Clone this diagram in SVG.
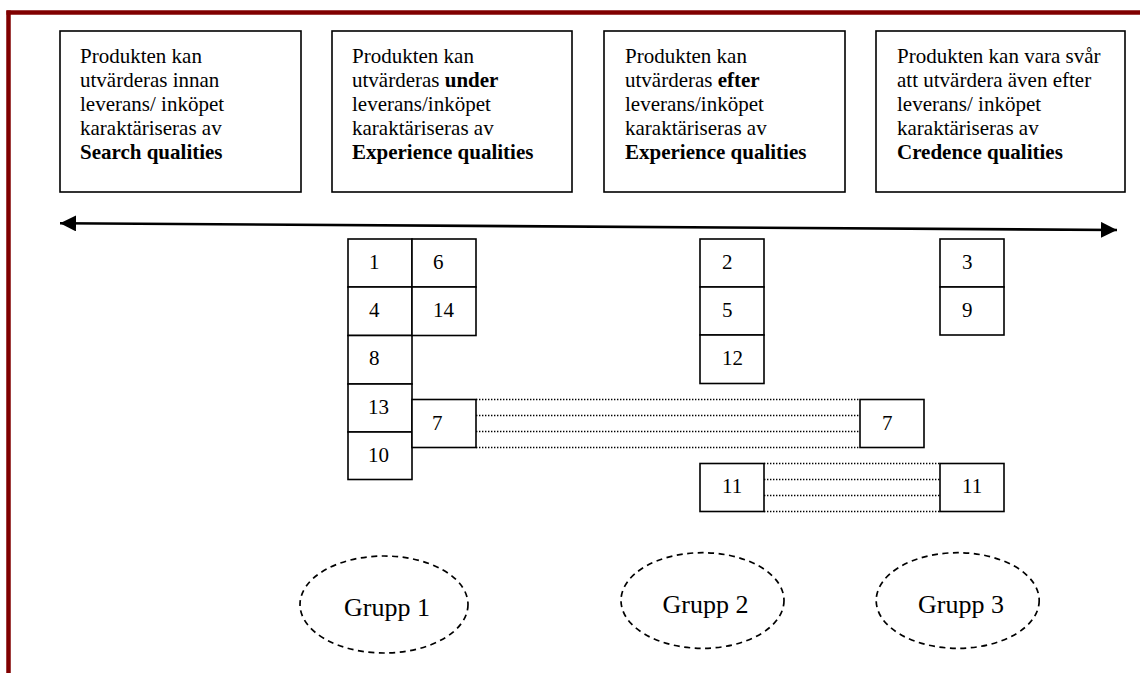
<svg xmlns="http://www.w3.org/2000/svg" width="1140" height="673" viewBox="0 0 1140 673">
<style>
.frame{fill:none;stroke:#800000;stroke-width:4.5}
.box{fill:#fff;stroke:#000;stroke-width:1.6}
.t{font-family:'Liberation Serif','DejaVu Serif',serif;font-size:21px;fill:#000}
.b{font-weight:bold}
.g{font-family:'Liberation Serif','DejaVu Serif',serif;font-size:26px;fill:#000;text-anchor:middle}
.dot{stroke:#000;stroke-width:1.4;stroke-dasharray:1.4 1.6;fill:none}
.ell{fill:#fff;stroke:#000;stroke-width:1.7;stroke-dasharray:6 4.5}
</style>
<defs>
<marker id="ah" viewBox="0 0 16 16" refX="16" refY="8" markerWidth="16" markerHeight="16" markerUnits="userSpaceOnUse" orient="auto-start-reverse">
<path d="M0,0 L16,8 L0,16 Z" fill="#000"/>
</marker>
</defs>
<rect width="1140" height="673" fill="#fff"/>
<g id="frame">
<line class="frame" x1="6.5" y1="12.5" x2="1140" y2="12.5"/>
<line class="frame" x1="8.5" y1="10.5" x2="8.5" y2="673"/>
</g>

<g id="box-search">
<rect class="box" x="60" y="31" width="241" height="161"/>
<text class="t" x="80" y="63">Produkten kan</text>
<text class="t" x="80" y="87">utvärderas innan</text>
<text class="t" x="80" y="111">leverans/ inköpet</text>
<text class="t" x="80" y="135">karaktäriseras av</text>
<text class="t b" x="80" y="159">Search qualities</text>
</g>
<g id="box-exp-under">
<rect class="box" x="332" y="31" width="240" height="161"/>
<text class="t" x="352" y="63">Produkten kan</text>
<text class="t" x="352" y="87">utvärderas <tspan class="b">under</tspan></text>
<text class="t" x="352" y="111">leverans/inköpet</text>
<text class="t" x="352" y="135">karaktäriseras av</text>
<text class="t b" x="352" y="159">Experience qualities</text>
</g>
<g id="box-exp-efter">
<rect class="box" x="604" y="31" width="241" height="161"/>
<text class="t" x="625" y="63">Produkten kan</text>
<text class="t" x="625" y="87">utvärderas <tspan class="b">efter</tspan></text>
<text class="t" x="625" y="111">leverans/inköpet</text>
<text class="t" x="625" y="135">karaktäriseras av</text>
<text class="t b" x="625" y="159">Experience qualities</text>
</g>
<g id="box-credence">
<rect class="box" x="876" y="31" width="249" height="161"/>
<text class="t" x="897" y="63">Produkten kan vara svår</text>
<text class="t" x="897" y="87">att utvärdera även efter</text>
<text class="t" x="897" y="111">leverans/ inköpet</text>
<text class="t" x="897" y="135">karaktäriseras av</text>
<text class="t b" x="897" y="159">Credence qualities</text>
</g>

<g id="connectors">
<line x1="60" y1="223.3" x2="1117" y2="230" stroke="#000" stroke-width="2.6" marker-start="url(#ah)" marker-end="url(#ah)"/>
<line class="dot" x1="476" y1="399.5" x2="860" y2="399.5"/>
<line class="dot" x1="476" y1="415.5" x2="860" y2="415.5"/>
<line class="dot" x1="476" y1="431.5" x2="860" y2="431.5"/>
<line class="dot" x1="476" y1="447.5" x2="860" y2="447.5"/>
<line class="dot" x1="764" y1="463.5" x2="940" y2="463.5"/>
<line class="dot" x1="764" y1="479.5" x2="940" y2="479.5"/>
<line class="dot" x1="764" y1="495.5" x2="940" y2="495.5"/>
<line class="dot" x1="764" y1="511.5" x2="940" y2="511.5"/>
</g>

<g id="n1"><rect class="box" x="348" y="239" width="64" height="48"/><text class="t" x="369" y="269">1</text></g>
<g id="n4"><rect class="box" x="348" y="287" width="64" height="48.5"/><text class="t" x="369" y="317">4</text></g>
<g id="n8"><rect class="box" x="348" y="335.5" width="64" height="48.5"/><text class="t" x="369" y="365">8</text></g>
<g id="n13"><rect class="box" x="348" y="384" width="64" height="48"/><text class="t" x="368" y="414">13</text></g>
<g id="n10"><rect class="box" x="348" y="432" width="64" height="47.5"/><text class="t" x="368" y="462">10</text></g>
<g id="n6"><rect class="box" x="412" y="239" width="64" height="48"/><text class="t" x="433" y="269">6</text></g>
<g id="n14"><rect class="box" x="412" y="287" width="64" height="48.5"/><text class="t" x="433" y="317">14</text></g>
<g id="n7a"><rect class="box" x="412" y="399.5" width="64" height="48"/><text class="t" x="432" y="430">7</text></g>

<g id="n2"><rect class="box" x="700" y="239" width="64" height="48"/><text class="t" x="722" y="269">2</text></g>
<g id="n5"><rect class="box" x="700" y="287" width="64" height="48"/><text class="t" x="722" y="317">5</text></g>
<g id="n12"><rect class="box" x="700" y="335" width="64" height="48.5"/><text class="t" x="722" y="365">12</text></g>
<g id="n7b"><rect class="box" x="860" y="399.5" width="64" height="48"/><text class="t" x="882" y="430">7</text></g>
<g id="n11a"><rect class="box" x="700" y="463.5" width="64" height="48"/><text class="t" x="722" y="493">11</text></g>

<g id="n3"><rect class="box" x="940" y="239" width="64" height="48"/><text class="t" x="962" y="269">3</text></g>
<g id="n9"><rect class="box" x="940" y="287" width="64" height="48"/><text class="t" x="962" y="317">9</text></g>
<g id="n11b"><rect class="box" x="940" y="463.5" width="64" height="48"/><text class="t" x="962" y="493">11</text></g>

<g id="grupp1"><ellipse class="ell" cx="384" cy="604.5" rx="84" ry="48.5"/><text class="g" x="387" y="616">Grupp 1</text></g>
<g id="grupp2"><ellipse class="ell" cx="702.5" cy="600.5" rx="81.5" ry="47.8"/><text class="g" x="705.5" y="612.5">Grupp 2</text></g>
<g id="grupp3"><ellipse class="ell" cx="957.7" cy="600.5" rx="81.5" ry="47.8"/><text class="g" x="961" y="612.5">Grupp 3</text></g>
</svg>
